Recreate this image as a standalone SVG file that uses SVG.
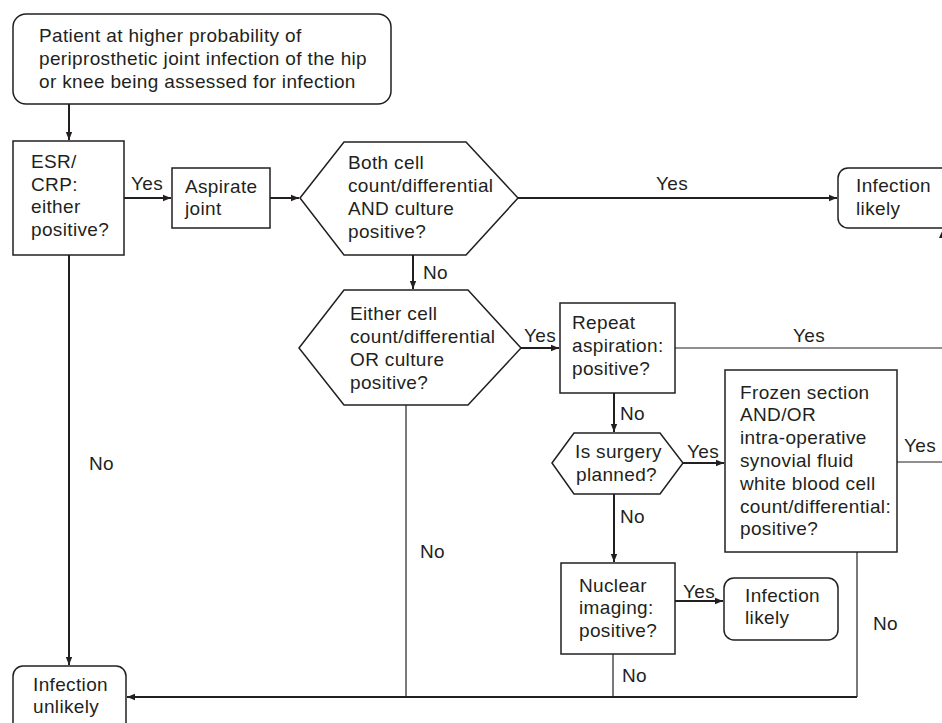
<svg xmlns="http://www.w3.org/2000/svg" width="942" height="723" viewBox="0 0 942 723">
<defs>
<marker id="arr" viewBox="0 0 10 10" refX="10" refY="5" markerWidth="8" markerHeight="8" markerUnits="userSpaceOnUse" orient="auto">
<path d="M0,1 L10,5 L0,9 Z" fill="#231f20"/>
</marker>
<style>
.box{fill:#fff;stroke:#231f20;stroke-width:1.5}
.t{font-family:"Liberation Sans",Arial,sans-serif;font-size:19px;fill:#231f20;letter-spacing:0.35px}
.c{fill:none;stroke:#231f20;stroke-width:2}
.ct{fill:none;stroke:#231f20;stroke-width:1.2}
</style>
</defs>
<rect width="942" height="723" fill="#fff"/>

<g id="connectors">
<line class="c" x1="69" y1="104" x2="69" y2="140" marker-end="url(#arr)"/>
<line class="c" x1="124" y1="198" x2="171" y2="198" marker-end="url(#arr)"/>
<line class="c" x1="270" y1="198" x2="299" y2="198" marker-end="url(#arr)"/>
<line class="c" x1="518" y1="198" x2="837" y2="198" marker-end="url(#arr)"/>
<line class="c" x1="413" y1="255" x2="413" y2="289" marker-end="url(#arr)"/>
<line class="c" x1="521" y1="348" x2="559" y2="348" marker-end="url(#arr)"/>
<line class="ct" x1="675" y1="348" x2="942" y2="348"/>
<polygon points="943,229 939,238 947,238" fill="#231f20"/>
<line class="c" x1="614" y1="393" x2="614" y2="432" marker-end="url(#arr)"/>
<line class="c" x1="683" y1="463" x2="724" y2="463" marker-end="url(#arr)"/>
<line class="ct" x1="897" y1="462" x2="942" y2="462"/>
<line class="c" x1="614" y1="494" x2="614" y2="562" marker-end="url(#arr)"/>
<line class="c" x1="675" y1="601" x2="723" y2="601" marker-end="url(#arr)"/>
<line class="c" x1="69" y1="255" x2="69" y2="665" marker-end="url(#arr)"/>
<line class="ct" x1="406" y1="405" x2="406" y2="697"/>
<line class="ct" x1="613" y1="654" x2="613" y2="697"/>
<line class="ct" x1="857" y1="552" x2="857" y2="697"/>
<line class="c" x1="857" y1="697" x2="127" y2="697" marker-end="url(#arr)"/>
<text class="t" x="131" y="190">Yes</text>
<text class="t" x="656" y="190">Yes</text>
<text class="t" x="423" y="279">No</text>
<text class="t" x="524" y="342">Yes</text>
<text class="t" x="793" y="342">Yes</text>
<text class="t" x="620" y="420">No</text>
<text class="t" x="687" y="458">Yes</text>
<text class="t" x="904" y="452">Yes</text>
<text class="t" x="620" y="523">No</text>
<text class="t" x="683" y="598">Yes</text>
<text class="t" x="89" y="470">No</text>
<text class="t" x="420" y="558">No</text>
<text class="t" x="622" y="682">No</text>
<text class="t" x="873" y="630">No</text>
</g>

<g id="start">
<rect class="box" x="13" y="14" width="378" height="90" rx="13"/>
<text class="t" x="39" y="42">Patient at higher probability of</text>
<text class="t" x="39" y="65">periprosthetic joint infection of the hip</text>
<text class="t" x="39" y="88">or knee being assessed for infection</text>
</g>

<g id="esr">
<rect class="box" x="13" y="141" width="111" height="114"/>
<text class="t" x="31" y="168">ESR/</text>
<text class="t" x="31" y="191">CRP:</text>
<text class="t" x="31" y="213">either</text>
<text class="t" x="31" y="236">positive?</text>
</g>

<g id="aspirate">
<rect class="box" x="172" y="168" width="98" height="60"/>
<text class="t" x="185" y="193">Aspirate</text>
<text class="t" x="185" y="215">joint</text>
</g>

<g id="both">
<polygon class="box" points="300,198 344,142 466,142 518,198 466,255 344,255"/>
<text class="t" x="348" y="169">Both cell</text>
<text class="t" x="348" y="192">count/differential</text>
<text class="t" x="348" y="215">AND culture</text>
<text class="t" x="348" y="238">positive?</text>
</g>

<g id="likely1">
<rect class="box" x="838" y="168" width="130" height="60" rx="10"/>
<text class="t" x="856" y="192">Infection</text>
<text class="t" x="856" y="215">likely</text>
</g>

<g id="either">
<polygon class="box" points="299,348 344,290 468,290 521,348 468,405 344,405"/>
<text class="t" x="350" y="320">Either cell</text>
<text class="t" x="350" y="343">count/differential</text>
<text class="t" x="350" y="366">OR culture</text>
<text class="t" x="350" y="389">positive?</text>
</g>

<g id="repeat">
<rect class="box" x="560" y="303" width="115" height="90"/>
<text class="t" x="572" y="329">Repeat</text>
<text class="t" x="572" y="352">aspiration:</text>
<text class="t" x="572" y="375">positive?</text>
</g>

<g id="surgery">
<polygon class="box" points="552,463 574,433 660,433 683,463 660,494 574,494"/>
<text class="t" x="575" y="458">Is surgery</text>
<text class="t" x="576" y="481">planned?</text>
</g>

<g id="frozen">
<rect class="box" x="725" y="370" width="172" height="182"/>
<text class="t" x="740" y="399">Frozen section</text>
<text class="t" x="740" y="421">AND/OR</text>
<text class="t" x="740" y="444">intra-operative</text>
<text class="t" x="740" y="467">synovial fluid</text>
<text class="t" x="740" y="490">white blood cell</text>
<text class="t" x="740" y="513">count/differential:</text>
<text class="t" x="740" y="535">positive?</text>
</g>

<g id="nuclear">
<rect class="box" x="561" y="563" width="114" height="91"/>
<text class="t" x="579" y="592">Nuclear</text>
<text class="t" x="579" y="614">imaging:</text>
<text class="t" x="579" y="637">positive?</text>
</g>

<g id="likely2">
<rect class="box" x="724" y="578" width="114" height="62" rx="10"/>
<text class="t" x="745" y="602">Infection</text>
<text class="t" x="745" y="624">likely</text>
</g>

<g id="unlikely">
<rect class="box" x="13" y="666" width="113" height="70" rx="10"/>
<text class="t" x="33" y="691">Infection</text>
<text class="t" x="33" y="713">unlikely</text>
</g>
</svg>
